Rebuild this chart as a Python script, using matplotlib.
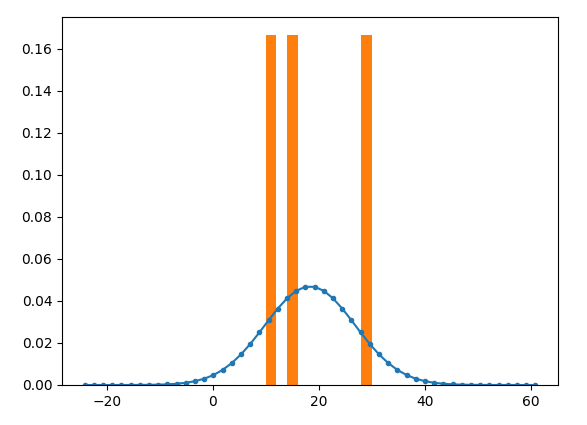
import matplotlib
matplotlib.use("Agg")
import matplotlib.pyplot as plt

# Orange bars (density histogram, bin width 2)
bar_left = [10, 14, 28]
bar_height = [1 / 6, 1 / 6, 1 / 6]

# Blue curve (normal density points)
curve_x = [-24.167, -22.432, -20.697, -18.963, -17.228, -15.493, -13.759, -12.024,
           -10.289, -8.555, -6.820, -5.085, -3.351, -1.616, 0.119, 1.854,
           3.588, 5.323, 7.058, 8.792, 10.527, 12.262, 13.996, 15.731,
           17.466, 19.201, 20.935, 22.670, 24.405, 26.139, 27.874, 29.609,
           31.343, 33.078, 34.813, 36.547, 38.282, 40.017, 41.751, 43.486,
           45.221, 46.955, 48.690, 50.425, 52.160, 53.894, 55.629, 57.364,
           59.098, 60.833]
half = [1.75e-7, 4.75e-7, 1.24e-6, 3.10e-6, 7.43e-6, 1.71e-5, 3.77e-5, 7.98e-5,
        1.62e-4, 3.15e-4, 5.89e-4, 1.055e-3, 1.813e-3, 2.988e-3, 4.724e-3, 7.164e-3,
        0.010425, 0.014546, 0.019471, 0.025000, 0.030786, 0.036363, 0.041204,
        0.044786, 0.046690]
curve_y = half + half[::-1]

fig = plt.figure(figsize=(5.87, 4.25), dpi=100)
ax = fig.add_axes([62 / 587, 40 / 425, 496 / 587, 368 / 425])

ax.bar(bar_left, bar_height, width=2, align="edge", color="C1")
ax.plot(curve_x, curve_y, marker=".", color="C0")

fig.savefig("out.png", dpi=100)
